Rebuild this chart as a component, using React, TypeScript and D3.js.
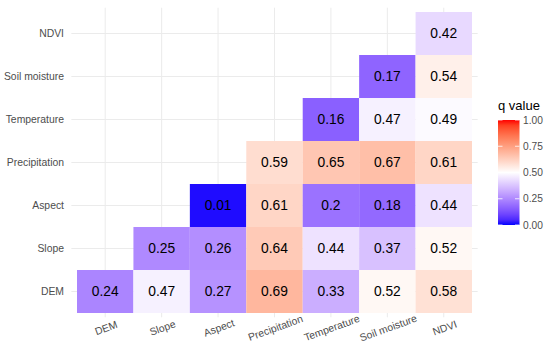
import React from 'react';
import * as d3 from 'd3';

// factor names, bottom-to-top on y and left-to-right on x
const factors = ['DEM', 'Slope', 'Aspect', 'Precipitation', 'Temperature', 'Soil moisture', 'NDVI'];

// q values per row, starting at the diagonal cell and moving right
const qDEM = [0.24, 0.47, 0.27, 0.69, 0.33, 0.52, 0.58];
const qSlope = [0.25, 0.26, 0.64, 0.44, 0.37, 0.52];
const qAspect = [0.01, 0.61, 0.2, 0.18, 0.44];
const qPrecipitation = [0.59, 0.65, 0.67, 0.61];
const qTemperature = [0.16, 0.47, 0.49];
const qSoilMoisture = [0.17, 0.54];
const qNDVI = [0.42];

const rowValues = [qDEM, qSlope, qAspect, qPrecipitation, qTemperature, qSoilMoisture, qNDVI];
const legendTicks = [0, 0.25, 0.5, 0.75, 1];

const W = 550;
const H = 346;

export default function App() {
  const x = d3.scaleBand<string>().domain(factors).range([77, 472]);
  const y = d3.scaleBand<string>().domain(factors).range([313, 12]);
  const bw = x.bandwidth();
  const bh = y.bandwidth();
  // ggplot's discrete expansion leaves 0.1 band beyond the tiles
  const px0 = 77 - bw * 0.1;
  const px1 = 472 + bw * 0.1;
  const py0 = 12 - bh * 0.1;
  const py1 = 313 + bh * 0.1;

  const color = d3.scaleLinear<string>()
    .domain([0, 0.5, 1])
    .range(['#0000ff', '#ffffff', '#ff0000'])
    .interpolate(d3.interpolateLab);

  const cells = rowValues.flatMap((vals, r) =>
    vals.map((v, k) => ({ row: factors[r], col: factors[r + k], v }))
  );

  const legY = d3.scaleLinear().domain([0, 1]).range([225, 120]);
  const stops = d3.range(0, 1.0001, 0.05);

  const font = 'Liberation Sans, Arial, sans-serif';

  return (
    <svg width={W} height={H} style={{ position: 'absolute', left: 0, top: 0, background: '#fff' }} fontFamily={font}>
      <defs>
        <linearGradient id="qbar" x1="0" y1="1" x2="0" y2="0">
          {stops.map((s) => (
            <stop key={s} offset={`${s * 100}%`} stopColor={color(s)} />
          ))}
        </linearGradient>
      </defs>

      {/* grid */}
      <g stroke="#ebebeb" strokeWidth={1}>
        {factors.map((f) => (
          <line key={'gx' + f} x1={x(f)! + bw / 2} x2={x(f)! + bw / 2} y1={py0} y2={py1} />
        ))}
        {factors.map((f) => (
          <line key={'gy' + f} x1={px0} x2={px1} y1={y(f)! + bh / 2} y2={y(f)! + bh / 2} />
        ))}
      </g>

      {/* tiles */}
      {cells.map((c) => (
        <g key={c.row + c.col}>
          <rect x={x(c.col)} y={y(c.row)} width={bw} height={bh} fill={color(c.v)} />
          <text
            x={x(c.col)! + bw / 2}
            y={y(c.row)! + bh / 2}
            textAnchor="middle"
            dominantBaseline="central"
            fontSize={13.8}
            fill="#000"
          >
            {String(c.v)}
          </text>
        </g>
      ))}

      {/* y axis labels */}
      {factors.map((f) => (
        <text key={'yl' + f} x={64} y={y(f)! + bh / 2} textAnchor="end" dominantBaseline="central" fontSize={10.4} fill="#4d4d4d">
          {f}
        </text>
      ))}

      {/* x axis labels */}
      {factors.map((f) => {
        const cx = x(f)! + bw / 2 + 1;
        const cy = 328;
        return (
          <text
            key={'xl' + f}
            x={cx}
            y={cy}
            transform={`rotate(-20, ${cx}, ${cy})`}
            textAnchor="middle"
            dominantBaseline="central"
            fontSize={10.4}
            fill="#4d4d4d"
          >
            {f}
          </text>
        );
      })}

      {/* legend */}
      <text x={498} y={110} fontSize={13} fill="#000">q value</text>
      <rect x={498} y={legY(1)} width={21.5} height={legY(0) - legY(1)} fill="url(#qbar)" />
      {legendTicks.map((t) => (
        <g key={'lt' + t}>
          <line x1={498} x2={502.5} y1={legY(t)} y2={legY(t)} stroke="#fff" strokeWidth={0.8} />
          <line x1={515} x2={519.5} y1={legY(t)} y2={legY(t)} stroke="#fff" strokeWidth={0.8} />
          <text x={523} y={legY(t)} dominantBaseline="central" fontSize={10.2} fill="#4d4d4d">
            {t.toFixed(2)}
          </text>
        </g>
      ))}
    </svg>
  );
}
